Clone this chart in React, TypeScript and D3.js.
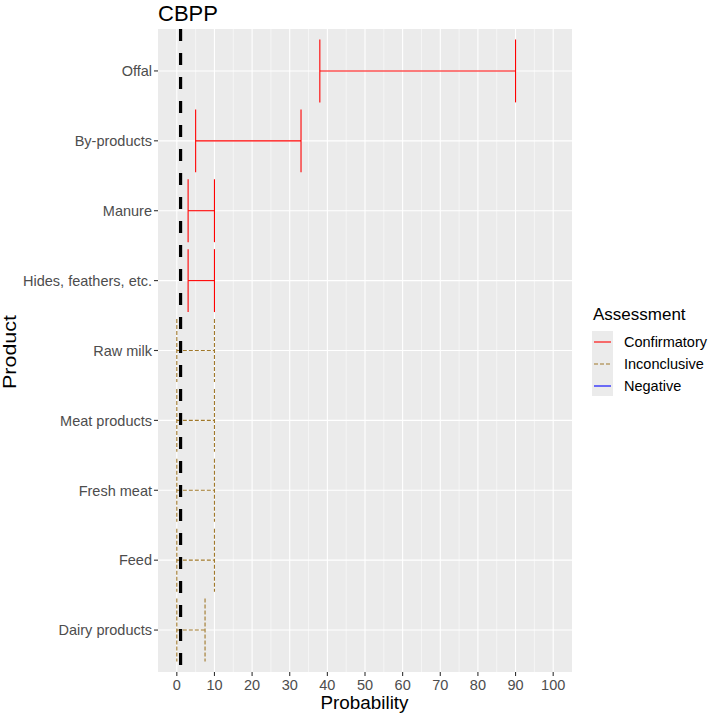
import React from "react";
import * as d3 from "d3";

const products = [
  "Offal",
  "By-products",
  "Manure",
  "Hides, feathers, etc.",
  "Raw milk",
  "Meat products",
  "Fresh meat",
  "Feed",
  "Dairy products",
];
const lower = [38, 5, 3, 3, 0, 0, 0, 0, 0];
const upper = [90, 33, 10, 10, 10, 10, 10, 10, 7.5];
const assessment = [
  "Confirmatory",
  "Confirmatory",
  "Confirmatory",
  "Confirmatory",
  "Inconclusive",
  "Inconclusive",
  "Inconclusive",
  "Inconclusive",
  "Inconclusive",
];
const legendLabels = ["Confirmatory", "Inconclusive", "Negative"];
const legendColors = ["#FF0000", "#A0782A", "#0000FF"];
const legendDash = ["none", "4,2", "none"];
const xTicks = [0, 10, 20, 30, 40, 50, 60, 70, 80, 90, 100];
const xMinor = [5, 15, 25, 35, 45, 55, 65, 75, 85, 95];
const refLine = 1;
const title = "CBPP";

export default function App() {
  const W = 709, H = 716;
  const pl = 158, pr = 572, pt = 29, pb = 672;
  const x = d3.scaleLinear().domain([-5, 105]).range([pl, pr]);
  const y = d3.scalePoint<string>().domain(products).range([pt, pb]).padding(0.6);
  const step = y.step();
  const half = step * 0.45;
  const colorOf = (a: string) => legendColors[legendLabels.indexOf(a)];
  const dashOf = (a: string) => legendDash[legendLabels.indexOf(a)];
  const font = "'Liberation Sans', Arial, sans-serif";

  return (
    <svg width={W} height={H} style={{ position: "absolute", left: 0, top: 0, background: "#fff" }} fontFamily={font}>
      <rect x={pl} y={pt} width={pr - pl} height={pb - pt} fill="#EBEBEB" />
      {xMinor.map((v) => (
        <line key={"mn" + v} x1={x(v)} x2={x(v)} y1={pt} y2={pb} stroke="#fff" strokeWidth={0.55} />
      ))}
      {xTicks.map((v) => (
        <line key={"mj" + v} x1={x(v)} x2={x(v)} y1={pt} y2={pb} stroke="#fff" strokeWidth={1.1} />
      ))}
      {products.map((p) => (
        <line key={"hy" + p} x1={pl} x2={pr} y1={y(p)} y2={y(p)} stroke="#fff" strokeWidth={1.1} />
      ))}
      {products.map((p, i) => {
        const c = colorOf(assessment[i]);
        const d = dashOf(assessment[i]);
        const yy = y(p)!;
        const x0 = x(lower[i]), x1 = x(upper[i]);
        return (
          <g key={"eb" + p} stroke={c} strokeWidth={1.1} strokeDasharray={d} fill="none">
            <line x1={x0} x2={x1} y1={yy} y2={yy} />
            <line x1={x0} x2={x0} y1={yy - half} y2={yy + half} />
            <line x1={x1} x2={x1} y1={yy - half} y2={yy + half} />
          </g>
        );
      })}
      <line x1={x(refLine)} x2={x(refLine)} y1={pt} y2={pb} stroke="#000" strokeWidth={3.2} strokeDasharray="12,12" />
      {/* y axis ticks + labels */}
      {products.map((p) => (
        <g key={"yt" + p}>
          <line x1={pl - 4} x2={pl} y1={y(p)} y2={y(p)} stroke="#333" strokeWidth={1.1} />
          <text x={pl - 6} y={y(p)} dy="0.36em" textAnchor="end" fontSize={14.5} fill="#4D4D4D">{p}</text>
        </g>
      ))}
      {xTicks.map((v) => (
        <g key={"xt" + v}>
          <line x1={x(v)} x2={x(v)} y1={pb} y2={pb + 4} stroke="#333" strokeWidth={1.1} />
          <text x={x(v)} y={690} textAnchor="middle" fontSize={14.5} fill="#4D4D4D">{v}</text>
        </g>
      ))}
      <text x={364.5} y={709} textAnchor="middle" fontSize={17.5} textLength={88} lengthAdjust="spacingAndGlyphs" fill="#000">Probability</text>
      <text transform={`translate(15.5,352) rotate(-90)`} textAnchor="middle" fontSize={17.5} textLength={74} lengthAdjust="spacingAndGlyphs" fill="#000">Product</text>
      <text x={pl} y={20.7} fontSize={22} fill="#000">{title}</text>
      {/* legend */}
      <text x={593} y={320} fontSize={17} fill="#000">Assessment</text>
      <rect x={592} y={331} width={21} height={65} fill="#EBEBEB" />
      {legendLabels.map((l, i) => {
        const ly = 342 + i * 22;
        return (
          <g key={"lg" + l}>
            <line x1={594} x2={611} y1={ly} y2={ly} stroke={legendColors[i]} strokeWidth={1.1} strokeDasharray={legendDash[i]} />
            <text x={624} y={ly} dy="0.36em" fontSize={14.5} fill="#000">{l}</text>
          </g>
        );
      })}
    </svg>
  );
}
